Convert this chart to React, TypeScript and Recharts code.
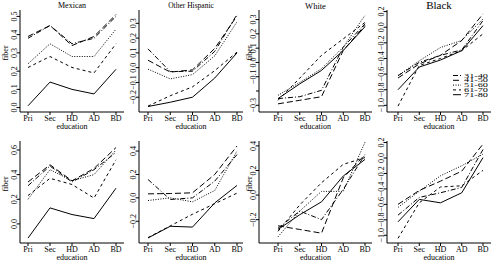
import { LineChart, Line, XAxis, YAxis, Legend } from 'recharts';

const education = ['Pri', 'Sec', 'HD', 'AD', 'BD'];
const ageGroups = ['31-40', '41-50', '51-60', '61-70', '71-80'];

// one row per age group, values in education order
const mexicanTop = [
  [0.38, 0.45, 0.35, 0.38, 0.5],
  [0.39, 0.45, 0.34, 0.39, 0.51],
  [0.24, 0.35, 0.28, 0.28, 0.43],
  [0.22, 0.28, 0.22, 0.19, 0.35],
  [0.01, 0.14, 0.1, 0.075, 0.21],
];
const otherTop = [
  [0.127, -0.027, -0.024, 0.11, 0.36],
  [0.05, -0.03, -0.015, 0.13, 0.35],
  [-0.01, -0.076, -0.047, 0.08, 0.31],
  [-0.26, -0.19, -0.13, -0.02, 0.105],
  [-0.263, -0.234, -0.2, -0.07, 0.1],
];
const whiteTop = [
  [-0.253, -0.24, -0.195, 0.107, 0.27],
  [-0.29, -0.265, -0.24, 0.084, 0.26],
  [-0.23, -0.14, -0.044, 0.107, 0.33],
  [-0.265, -0.11, 0.05, 0.165, 0.28],
  [-0.253, -0.15, -0.056, 0.084, 0.25],
];
const blackTop = [
  [-0.62, -0.45, -0.36, -0.29, 0.085],
  [-0.65, -0.47, -0.36, -0.17, 0.17],
  [-0.62, -0.43, -0.26, -0.17, 0.106],
  [-1.01, -0.49, -0.4, -0.3, -0.085],
  [-0.8, -0.51, -0.42, -0.3, 0.02],
];
const mexicanBottom = [
  [0.31, 0.47, 0.34, 0.44, 0.58],
  [0.34, 0.48, 0.35, 0.45, 0.62],
  [0.2, 0.44, 0.35, 0.4, 0.6],
  [0.23, 0.37, 0.32, 0.21, 0.52],
  [-0.115, 0.13, 0.076, 0.043, 0.29],
];
const otherBottom = [
  [0.157, -0.014, 0.0, 0.143, 0.37],
  [0.034, 0.037, 0.043, 0.2, 0.443],
  [-0.023, 0.0, -0.034, 0.063, 0.4],
  [-0.34, -0.24, -0.14, -0.05, 0.04],
  [-0.343, -0.243, -0.25, -0.043, 0.106],
];
const whiteBottom = [
  [-0.27, -0.13, -0.2, 0.046, 0.33],
  [-0.25, -0.28, -0.31, 0.14, 0.33],
  [-0.34, -0.13, 0.03, 0.03, 0.43],
  [-0.295, -0.08, 0.1, 0.25, 0.305],
  [-0.28, -0.16, -0.055, 0.155, 0.29],
];
const blackBottom = [
  [-0.74, -0.51, -0.45, -0.38, 0.11],
  [-0.6, -0.42, -0.3, -0.17, 0.18],
  [-0.64, -0.43, -0.23, -0.1, 0.05],
  [-1.04, -0.58, -0.375, -0.36, -0.16],
  [-0.826, -0.536, -0.58, -0.45, 0.005],
];

const mexicanTopTicks = [0, 0.1, 0.2, 0.3, 0.4, 0.5];
const otherTopTicks = [-0.2, -0.1, 0, 0.1, 0.2, 0.3];
const whiteTopTicks = [-0.3, -0.2, -0.1, 0, 0.1, 0.2, 0.3];
const blackTicks = [-1, -0.8, -0.6, -0.4, -0.2, 0, 0.2];
const mexicanBottomTicks = [0, 0.2, 0.4, 0.6];
const otherBottomTicks = [-0.2, 0, 0.2, 0.4];
const whiteBottomTicks = [-0.2, 0, 0.2, 0.4];

const FONT = "'Liberation Serif', 'DejaVu Serif', serif";
const AXIS_W = 22;
const TOP_PAD = 8;
const dashes = ['5 2 1 2', '6 3', '1 1.5', '3 3', undefined];

const cols = [
  { left: 20, right: 124, padL: 8, padR: 8 },
  { left: 139, right: 243, padL: 9, padR: 6 },
  { left: 259, right: 372, padL: 19, padR: 7 },
  { left: 387, right: 491, padL: 11, padR: 8 },
];
const rows = [
  { top: 10, bottom: 112 },
  { top: 141, bottom: 243 },
];

const panels = [
  { col: 0, row: 0, title: 'Mexican', titleSize: 8, values: mexicanTop, ticks: mexicanTopTicks, domain: [-0.024, 0.535], fiber: 5.5 },
  { col: 1, row: 0, title: 'Other Hispanic', titleSize: 7.5, values: otherTop, ticks: otherTopTicks, domain: [-0.3, 0.39] },
  { col: 2, row: 0, title: 'White', titleSize: 8.5, values: whiteTop, ticks: whiteTopTicks, domain: [-0.347, 0.367], fiber: 250, hidden: [-0.2] },
  { col: 3, row: 0, title: 'Black', titleSize: 11, values: blackTop, ticks: blackTicks, domain: [-1.085, 0.22], legend: true },
  { col: 0, row: 1, values: mexicanBottom, ticks: mexicanBottomTicks, domain: [-0.155, 0.673], fiber: 5.5 },
  { col: 1, row: 1, values: otherBottom, ticks: otherBottomTicks, domain: [-0.386, 0.486] },
  { col: 2, row: 1, values: whiteBottom, ticks: whiteBottomTicks, domain: [-0.39, 0.44], fiber: 250 },
  { col: 3, row: 1, values: blackBottom, ticks: blackTicks, domain: [-1.1, 0.22] },
];

function YTick(props: any) {
  const { x, y, payload, hidden } = props;
  const v = payload.value;
  if (hidden && hidden.includes(v)) return null;
  const label = (v < 0 ? '\u2212' : '') + Math.abs(v).toFixed(1);
  return (
    <text x={x} y={y} transform={`rotate(-90 ${x} ${y})`} textAnchor="middle" fontSize={8} fill="#000">
      {label}
    </text>
  );
}

function AgeLegend() {
  return (
    <svg width={40} height={26} style={{ display: 'block' }}>
      {ageGroups.map((g, i) => {
        const y = 2.5 + i * 4.8;
        return (
          <g key={g}>
            <line x1={0} x2={8} y1={y} y2={y} stroke="#000" strokeWidth={1} strokeDasharray={dashes[i]} />
            <text x={11} y={y} dominantBaseline="central" fontSize={6} textLength={24} lengthAdjust="spacingAndGlyphs" fill="#000">
              {g}
            </text>
          </g>
        );
      })}
    </svg>
  );
}

function Panel({ p }: { p: any }) {
  const c = cols[p.col];
  const r = rows[p.row];
  const boxW = c.right - c.left;
  const boxH = r.bottom - r.top;
  const data = education.map((e, i) => {
    const row: any = { edu: e };
    ageGroups.forEach((g, k) => {
      row[g] = p.values[k][i];
    });
    return row;
  });
  const chartLeft = c.left - AXIS_W;
  const chartTop = r.top - TOP_PAD;

  return (
    <>
      {p.title && (
        <div
          style={{
            position: 'absolute',
            left: (c.left + c.right) / 2,
            top: p.titleSize > 10 ? 0 : 1.5,
            transform: 'translateX(-50%)',
            fontSize: p.titleSize,
            lineHeight: 1,
            whiteSpace: 'nowrap',
          }}
        >
          {p.title}
        </div>
      )}
      {p.fiber !== undefined && (
        <div
          style={{
            position: 'absolute',
            left: p.fiber,
            top: r.top + 43,
            transform: 'translate(-50%, -50%) rotate(-90deg)',
            fontSize: 8,
            lineHeight: 1,
          }}
        >
          fiber
        </div>
      )}
      <div
        style={{
          position: 'absolute',
          left: (c.left + c.right) / 2 - 30,
          width: 60,
          textAlign: 'center',
          top: r.bottom + 11,
          fontSize: 8,
          lineHeight: 1,
          color: '#000000',
          whiteSpace: 'nowrap',
        }}
      >
        education
      </div>
      <div style={{ position: 'absolute', left: chartLeft, top: chartTop }}>
        <LineChart
          width={boxW + AXIS_W + 1}
          height={boxH + 20 + TOP_PAD}
          data={data}
          margin={{ top: TOP_PAD, right: 1, left: 0, bottom: 0 }}
        >
          <XAxis
            dataKey="edu"
            interval={0}
            padding={{ left: c.padL, right: c.padR }}
            tickSize={3}
            tickMargin={0}
            height={20}
            stroke="#000"
            tick={{ fontSize: 8, fill: '#000' }}
          />
          <XAxis xAxisId="top" orientation="top" dataKey="edu" height={0} tick={false} tickLine={false} stroke="#000" />
          <YAxis
            type="number"
            domain={p.domain}
            ticks={p.ticks}
            allowDataOverflow
            interval={0}
            width={AXIS_W}
            tickSize={3}
            tickMargin={0}
            stroke="#000"
            tick={(tp: any) => <YTick {...tp} hidden={p.hidden} />}
          />
          <YAxis yAxisId="r" orientation="right" domain={[0, 1]} width={0} tick={false} tickLine={false} stroke="#000" />
          {ageGroups.map((g, i) => (
            <Line
              key={g}
              type="linear"
              dataKey={g}
              stroke="#000"
              strokeWidth={1}
              strokeDasharray={dashes[i]}
              dot={false}
              activeDot={false}
              isAnimationActive={false}
            />
          ))}
          {p.legend && (
            <Legend
              layout="vertical"
              align="center"
              verticalAlign="middle"
              content={() => <AgeLegend />}
              wrapperStyle={{ left: 453 - chartLeft, top: 72.5 - chartTop, width: 40, height: 26 }}
            />
          )}
        </LineChart>
      </div>
    </>
  );
}

export default function App() {
  return (
    <div
      style={{
        position: 'absolute',
        left: 0,
        top: 0,
        width: 492,
        height: 262,
        overflow: 'hidden',
        background: '#fff',
        fontFamily: FONT,
        color: '#000',
      }}
    >
      {panels.map((p, i) => (
        <Panel key={i} p={p} />
      ))}
    </div>
  );
}
